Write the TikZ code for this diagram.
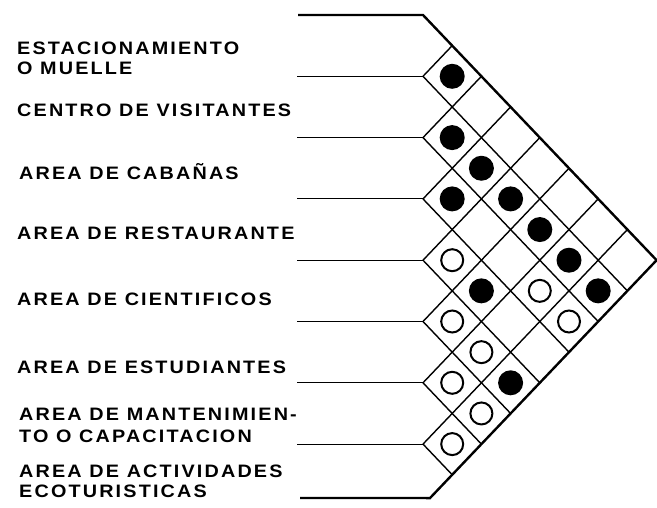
\documentclass[tikz,border=0pt]{standalone}
\usepackage{fontspec}
\newfontfamily\lblfont[LetterSpace=12,FakeStretch=1.1]{Liberation Sans}
\usetikzlibrary{calc}
\tikzset{
	lbl/.style={anchor=base west, inner sep=0pt, font=\lblfont\bfseries\fontsize{18}{20}\selectfont},
	rowline/.style={line width=1pt},
	gridline/.style={line width=1.4pt},
	outline/.style={line width=2.4pt, line join=miter},
	dotfull/.style={fill=black},
	dotopen/.style={draw=black, line width=2pt},
}

\begin{document}
\begin{tikzpicture}[x=1pt, y=-1pt]
		\useasboundingbox (0,0) rectangle (657,507);
		% corners of the matrix
		\foreach \k in {0,...,8}
			\coordinate (L\k) at (423,{15+61.3*\k});
		\coordinate (R) at ($(L0)+(233.6,245.2)$);
		\coordinate (B) at ($(R)!0.97!(L8)$);
		\coordinate (T0) at (298,15);
		\coordinate (B0) at (300,498);
		% row lines
		\foreach \k in {1,...,7} {
			\coordinate (P\k) at (297,{15+61.3*\k});
			\draw[rowline] (P\k) -- (L\k);
		}
		% cells
		\foreach \k in {1,...,7} {
			\draw[gridline] (L\k) -- ++({(8-\k)*29.2},{(8-\k)*30.65});
			\draw[gridline] (L\k) -- ++({\k*29.2},{-\k*30.65});
		}
		\draw[outline] (T0) -- (L0) -- (R) -- (B) -- (B0);
		% relations
		\foreach \i/\j in {1/2,2/3,2/4,3/4,2/5,2/6,2/7,2/8,4/6,5/8}
			\fill[dotfull] ({423+(\j-\i)*29.2},{15+(\i+\j-1)*30.65}) circle (12.5);
		\foreach \i/\j in {4/5,3/7,5/6,3/8,5/7,6/7,6/8,7/8}
			\draw[dotopen] ({423+(\j-\i)*29.2},{15+(\i+\j-1)*30.65}) circle (11);
		% labels
		\node[lbl] (est) at (17,54.5) {ESTACIONAMIENTO};
		\node[lbl] (mue) at (17,74.5) {O MUELLE};
		\node[lbl] (vis) at (17,116.5) {CENTRO DE VISITANTES};
		\node[lbl] (cab) at (19,179.5) {AREA DE CABAÑAS};
		\node[lbl] (res) at (17,239.5) {AREA DE RESTAURANTE};
		\node[lbl] (cie) at (17,305.5) {AREA DE CIENTIFICOS};
		\node[lbl] (stu) at (17,373.5) {AREA DE ESTUDIANTES};
		\node[lbl] (man) at (19,420.5) {AREA DE MANTENIMIEN-};
		\node[lbl] (cap) at (19,442.5) {TO O CAPACITACION};
		\node[lbl] (act) at (19,477.5) {AREA DE ACTIVIDADES};
		\node[lbl] (eco) at (19,497.5) {ECOTURISTICAS};
	\end{tikzpicture}
\end{document}
